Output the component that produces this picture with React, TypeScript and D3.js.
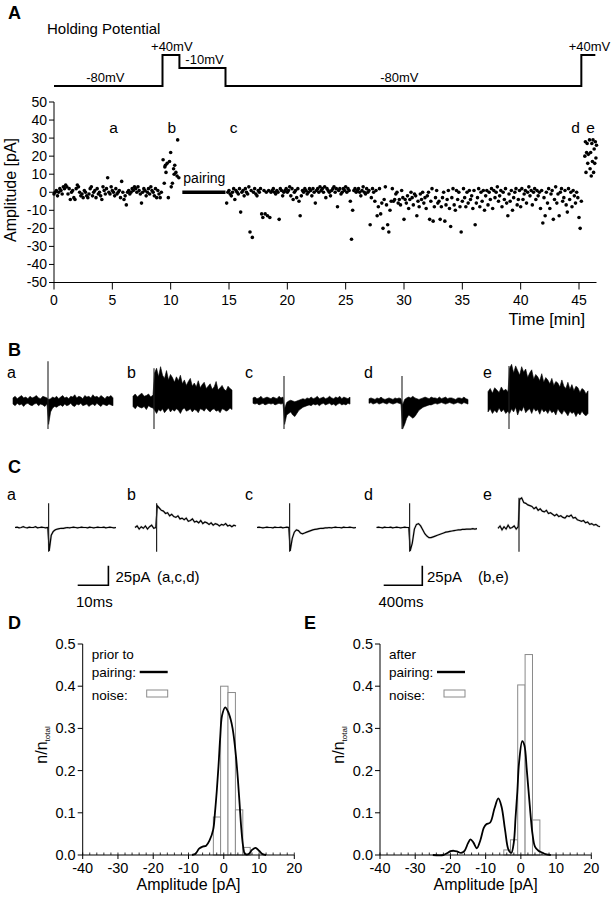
import React from 'react';
import * as d3 from 'd3';

const FONT = "'Liberation Sans', Arial, Helvetica, sans-serif";

// ---------------- Panel A: holding potential protocol ----------------
const holdTimes = [0, 9.3, 10.75, 14.7, 45.2, 46.4];
const holdLevels = [-80, 40, -10, -80, 40, 40];
const holdLabelText = ['-80mV', '+40mV', '-10mV', '-80mV', '+40mV'];
const holdLabelTime = [4.4, 10.1, 12.9, 29.6, 45.9];
const holdLabelLevel = [-80, 40, -10, -80, 40];

// ---------------- Panel A: EPSC amplitudes over time ----------------
const PRE_T0 = 0;
const PRE_DT = 0.1;
const preAmps = [
  -1, 0, 1, -2, 0, 2, 1, -1, 3, 2,
  4, 3, -1, 2, -4, 0, 1, -3, -4, 2,
  4, 3, 0, -2, -1, -3, 1, 0, -2, -3,
  -1, 2, 3, -2, 0, 1, -3, 2, -1, 0,
  -2, -4, 3, 1, -1, 2, 8, 0, -1, 3,
  1, 0, -2, 2, -1, 0, 1, -3, 6, 0,
  -4, -2, -7, 0, 1, -1, 0, 2, 1, 3,
  2, 0, 3, 1, -1, -6, 0, 2, 1, -2,
  0, 2, -1, 3, 1, 0, -2, 2, -3, 1,
  -1, -3, 0,
];
const bTimes = [9.35, 9.45, 9.5, 9.55, 9.6, 9.7, 9.8, 9.9, 10.0, 10.05, 10.15, 10.25, 10.3, 10.35, 10.45, 10.55, 10.6, 10.7];
const bAmps = [18, 5, 14, 15, 11, 16, -3, 17, 22, 3, 5, 13, 10, 15, 11, 9, 29, 8];
const POST_T0 = 14.8;
const POST_DT = 0.1;
const postAmps = [
  -6, 0,
  1, -1, -2, 0, 2, -4, 1, 0, -1, 2,
  -11, 0, 1, -2, 2, 0, -1, 3, -22, 1,
  -25, 0, 2, -1, -2, 1, 0, 2, -12, -14,
  1, -12, 0, -13, 1, -14, 0, 1, 2, 0,
  -1, 1, 0, -15, 2, 1, -2, 0, 1, 2,
  0, 1, 3, -2, 2, -4, 0, 1, -3, 2,
  -5, -13, -2, 1, 0, 2, 1, -1, 0, 2,
  1, -2, 2, 0, -6, 1, 2, 0, 3, 1,
  2, 0, 3, -3, 2, 1, 0, -2, 1, 2,
  3, 0, 2, -8, 1, 2, -1, 0, 2, 1,
  3, 0, 2, 1, -5, -26, -10, 1, 2, 0,
  1, 2, 0, -2, 1, 3, 0, -1, 2, 0,
  1, -18, -3, 2, 0, -5, 1, -13, -8, 2,
  -12, -6, -20, -4, 3, -7, -18, -22, -10, -5,
  2, -5, -4, -1, 0, -6, -4, -7, 1, -3,
  -15, -4, -6, -2, -9, -4, 0, -3, -7, -1,
  -2, -13, -5, -8, -1, -4, 0, -6, -3, -9,
  -2, 0, -15, -5, 2, -16, -8, -3, 1, -6,
  -5, -15, -8, -3, 0, -16, -7, -4, 1, -9,
  -19, -3, 2, -7, -10, 1, -4, 0, -8, -22,
  -5, 2, -3, -8, 0, -6, 1, -4, -2, -9,
  1, -18, -6, -3, 2, -8, 0, -5, 1, -10,
  -2, 1, -7, 0, -4, 2, -9, 1, -3, 0,
  3, -5, -2, 1, -8, 0, -4, 2, -6, -13,
  -1, -5, 1, -10, -3, 0, 2, -7, -4, 1,
  -8, 2, -4, -1, 1, -6, 0, 3, -2, 1,
  -7, 0, 2, -4, 1, -2, 0, -9, 1, -17,
  -3, -13, 0, -6, 2, -9, -1, 1, -15, -4,
  3, -6, -1, -13, 0, 2, -5, -3, 1, -7,
  -11, 2, -4, 0, -8, 1, -2, -6, 0, -3,
  -14, -20, -5,
];
const eTimes = [45.5, 45.55, 45.6, 45.65, 45.7, 45.75, 45.8, 45.9, 45.95, 46.0, 46.05, 46.1, 46.15, 46.2, 46.25, 46.3, 46.35, 46.4, 46.45, 46.5];
const eAmps = [20, 28, 11, 22, 27, 16, 21, 29, 13, 22, 9, 27, 17, 29, 11, 24, 16, 28, 19, 26];
const pairingSpan = [11, 14.7];
const timeTicks = [0, 5, 10, 15, 20, 25, 30, 35, 40, 45];
const ampTicks = [-50, -40, -30, -20, -10, 0, 10, 20, 30, 40, 50];
const eventLetters = ['a', 'b', 'c', 'd', 'e'];
const eventTimes = [5.1, 10.1, 15.4, 44.7, 46.0];

// ---------------- Panel B: overlaid traces (envelope, pA) ----------------
const bA_preTop = [4, 6, 3, 5, 7, 4, 5, 3, 6, 4, 5, 7, 4, 3, 6, 5, 4];
const bA_postTop = [2, 3, 5, 4, 6, 3, 5, 7, 4, 5, 3, 6, 5, 8, 4, 6, 5, 3, 7, 5, 6, 4, 8, 5, 6, 4, 7, 5, 3, 6, 5, 7, 4];
const bA_preBot = [-4, -6, -3, -5, -4, -7, -4, -3, -5, -6, -4, -3, -6, -4, -5, -7, -4];
const bA_postBot = [-30, -14, -9, -7, -8, -6, -5, -7, -4, -6, -5, -3, -6, -7, -4, -5, -3, -6, -5, -4, -7, -5, -4, -6, -3, -5, -7, -4, -5, -6, -4, -5, -6];

const bB_preTop = [6, 9, 5, 8, 10, 6, 7, 9, 5, 8];
const bB_postTop = [36, 42, 31, 44, 33, 29, 39, 27, 34, 30, 24, 31, 26, 33, 22, 27, 20, 25, 29, 19, 23, 18, 26, 17, 21, 24, 16, 19, 22, 15, 18, 25, 14, 17, 20, 15, 13, 19, 16, 14];
const bB_preBot = [-7, -10, -6, -8, -9, -7, -11, -6, -8, -9];
const bB_postBot = [-12, -16, -11, -13, -10, -15, -12, -9, -14, -11, -13, -10, -12, -16, -11, -9, -13, -12, -10, -14, -11, -12, -15, -10, -11, -13, -9, -12, -14, -11, -10, -13, -12, -15, -10, -11, -13, -12, -9, -11];

const bC_preTop = [4, 5, 3, 4, 6, 3, 4, 5, 4, 3, 5, 4, 3, 6, 4, 5];
const bC_postTop = [-10, -2, 0, 1, 0, -1, 0, 1, 2, 3, 2, 4, 3, 5, 3, 4, 6, 3, 4, 5, 3, 4, 6, 4, 3, 5, 4, 6, 3, 5, 4, 3, 5];
const bC_preBot = [-3, -4, -3, -5, -4, -3, -5, -4, -3, -4, -3, -5, -4, -3, -4, -3];
const bC_postBot = [-30, -18, -16, -14, -18, -20, -16, -12, -10, -8, -7, -6, -5, -6, -4, -5, -4, -6, -4, -3, -5, -4, -3, -5, -4, -6, -4, -3, -5, -4, -5, -3, -4];

const bD_preTop = [3, 4, 3, 2, 4, 3, 5, 3, 2, 3, 4, 3, 2, 4, 3, 4, 3];
const bD_postTop = [-5, 2, 4, 5, 4, 6, 4, 3, 2, 3, 4, 5, 4, 3, 5, 4, 4, 3, 5, 3, 4, 5, 3, 4, 4, 3, 2, 4, 4, 3, 5, 3, 2];
const bD_preBot = [-3, -2, -4, -3, -2, -4, -3, -2, -3, -4, -2, -3, -4, -3, -2, -3, -4];
const bD_postBot = [-36, -30, -22, -18, -20, -22, -20, -16, -12, -10, -8, -7, -6, -5, -5, -4, -3, -4, -3, -2, -3, -4, -3, -2, -3, -4, -3, -2, -3, -4, -2, -3, -4];

const bE_preTop = [12, 16, 10, 17, 14, 11, 18, 13, 15, 12];
const bE_postTop = [42, 47, 36, 45, 39, 33, 44, 37, 41, 30, 36, 40, 28, 34, 31, 26, 35, 24, 30, 27, 22, 29, 20, 25, 23, 18, 27, 19, 16, 24, 15, 21, 13, 19, 17, 11, 16, 14, 9, 13];
const bE_preBot = [-14, -10, -16, -12, -15, -9, -14, -11, -16, -13];
const bE_postBot = [-16, -10, -14, -8, -18, -11, -13, -7, -15, -12, -10, -16, -9, -13, -11, -17, -10, -14, -12, -16, -11, -15, -13, -18, -10, -14, -17, -12, -15, -19, -13, -16, -14, -20, -15, -18, -13, -17, -19, -16];

const bArtifactTop = [51, 42, 32, 32, 45];
const bArtifactBot = [-36, -36, -36, -36, -36];

// ---------------- Panel C: averaged traces (pA) ----------------
const cA_pre = [0, 0.5, -0.5, 0, 1, 0, -0.5, 0.5, 0, 0, 1, -0.5, 0, 0.5, 0, -0.5, 0];
const cA_post = [-30, -10, -5, -3, -2, -1.5, -1, -1, -0.5, 0, -0.5, 0, 0.5, 0, -0.5, 0, 0.5, 0, 0, -0.5, 0.5, 0, -0.5, 0, 0.5, 0, 0, 0.5, -0.5, 0, 0.5, 0, -0.5, 0];
const cB_pre = [0, 2, -2, 1, -1, 2, -2, 1, 3, -1, 0];
const cB_post = [28, 25, 22, 21, 18, 19, 15, 17, 14, 13, 15, 11, 12, 10, 12, 8, 9, 11, 7, 8, 6, 9, 5, 7, 6, 4, 6, 3, 5, 4, 2, 4, 3, 5, 2, 3, 1, 3, 2];
const cC_pre = [0, 0.5, 0, -0.5, 0, 0.5, 0, 0, -0.5, 0.5, 0, 0, 0.5, -0.5, 0, 0.5, 0];
const cC_post = [-30, -14, -6, -3, -4, -7, -8, -7, -6, -5, -4, -3, -2.5, -2, -1.5, -1, -1, -0.5, -0.5, 0, -0.5, 0, 0.5, 0, 0, -0.5, 0.5, 0, 0, 0.5, 0, -0.5, 0];
const cD_pre = [0, 0.5, 0, -0.5, 0.5, 0, 0, 0.5, -0.5, 0, 0.5, 0, -0.5, 0, 0.5, 0, 0];
const cD_post = [-30, -20, -2, 4, 5, 2, -3, -8, -11, -13, -13, -12, -11, -10, -9, -8, -7, -6, -5.5, -5, -4.5, -4, -3.5, -3, -3, -2.5, -2.5, -2, -2, -2, -1.5, -2, -1.5];
const cE_pre = [-1, 2, -3, 1, -2, 3, -1, 0, 2, -2, 1];
const cE_post = [36, 38, 32, 31, 29, 28, 27, 24, 26, 22, 24, 21, 20, 22, 18, 19, 17, 15, 17, 14, 15, 13, 12, 15, 14, 16, 12, 13, 10, 9, 8, 9, 6, 7, 4, 5, 3, 4, 2, 1];
const cArtifactTop = [31, 31, 31, 31, 38];
const cArtifactBot = [-31, -31, -31, -31, -31];

const traceLetters = ['a', 'b', 'c', 'd', 'e'];

// ---------------- Panels D / E: amplitude histograms ----------------
const binEdges = [-4.85, -2.95, -0.9, 1.2, 3.3, 5.4, 7.5];
const noiseD = [0, 0.09, 0.4, 0.385, 0.107, 0.018];
const noiseE = [0.012, 0.036, 0.403, 0.475, 0.083, 0];
const curveDx = [-9, -8, -7, -6, -5, -4, -3, -2.5, -2, -1.5, -1, -0.5, 0.4, 1.2, 2, 2.5, 3, 3.5, 4, 4.5, 5, 5.5, 6, 7, 8, 9, 10, 11, 12];
const curveDy = [0, 0.003, 0.015, 0.02, 0.022, 0.035, 0.06, 0.1, 0.15, 0.21, 0.28, 0.33, 0.35, 0.34, 0.32, 0.3, 0.27, 0.23, 0.18, 0.12, 0.06, 0.02, 0.003, 0.002, 0.012, 0.017, 0.01, 0.002, 0];
const curveEx = [-25, -22, -21, -20, -19, -18, -17, -16, -15, -14.3, -13.5, -12.5, -11.5, -10.5, -9.8, -8.7, -7.5, -6.4, -5.5, -4.5, -3.5, -2.7, -2, -1.5, -1, -0.5, 0.4, 1, 1.7, 2.5, 3.3, 4, 5, 6, 7, 8.5];
const curveEy = [0, 0, 0.004, 0.009, 0.01, 0.008, 0.005, 0.01, 0.028, 0.037, 0.03, 0.016, 0.035, 0.065, 0.073, 0.077, 0.11, 0.134, 0.115, 0.06, 0.012, 0.005, 0.03, 0.09, 0.15, 0.22, 0.27, 0.26, 0.2, 0.12, 0.05, 0.02, 0.01, 0.006, 0.002, 0];
const histXTicks = [-40, -30, -20, -10, 0, 10, 20];
const histYTicks = [0, 0.1, 0.2, 0.3, 0.4, 0.5];

const PX_PER_PA = 0.78;

type Pt = { x: number; t: number; b: number };

function Band({ x0, xa, x1, base, preTop, postTop, preBot, postBot, artTop, artBot }: any) {
  const sPre = d3.scaleLinear().domain([0, preTop.length - 1]).range([x0, xa - 1]);
  const sPost = d3.scaleLinear().domain([0, postTop.length - 1]).range([xa + 0.6, x1]);
  const y = d3.scaleLinear().domain([0, 1]).range([base, base - PX_PER_PA]);
  const pts: Pt[] = [
    ...preTop.map((v: number, i: number) => ({ x: sPre(i), t: y(v), b: y(preBot[i]) })),
    ...postTop.map((v: number, i: number) => ({ x: sPost(i), t: y(v), b: y(postBot[i]) })),
  ];
  const area = d3.area<Pt>().x((d) => d.x).y0((d) => d.b).y1((d) => d.t)(pts) || '';
  return (
    <g>
      <path d={area} fill="#000" stroke="#000" strokeWidth={0.6} />
      <line x1={xa} x2={xa} y1={y(artTop)} y2={y(artBot)} stroke="#222" strokeWidth={1.1} />
    </g>
  );
}

function Trace({ x0, xa, x1, base, pre, post, artTop, artBot }: any) {
  const sPre = d3.scaleLinear().domain([0, pre.length - 1]).range([x0, xa - 0.8]);
  const sPost = d3.scaleLinear().domain([0, post.length - 1]).range([xa + 0.6, x1]);
  const y = d3.scaleLinear().domain([0, 1]).range([base, base - PX_PER_PA]);
  const pts: [number, number][] = [
    ...pre.map((v: number, i: number) => [sPre(i), y(v)] as [number, number]),
    ...post.map((v: number, i: number) => [sPost(i), y(v)] as [number, number]),
  ];
  const line = d3.line()(pts) || '';
  return (
    <g>
      <path d={line} fill="none" stroke="#aaa" strokeWidth={2.2} opacity={0.5} />
      <path d={line} fill="none" stroke="#000" strokeWidth={1.2} />
      <line x1={xa} x2={xa} y1={y(artTop)} y2={y(artBot)} stroke="#222" strokeWidth={1.2} />
    </g>
  );
}

function Hist({ xLeft, xRight, noise, cx, cy, legend1, letter, letterX }: any) {
  const x = d3.scaleLinear().domain([-40, 20]).range([xLeft, xRight]);
  const y = d3.scaleLinear().domain([0, 0.5]).range([855, 644]);
  const pts: [number, number][] = cx.map((v: number, i: number) => [x(v), y(cy[i])]);
  const curve = d3.line().curve(d3.curveCatmullRom.alpha(0.5))(pts) || '';
  const minor = d3.range(-40, 20.01, 2);
  const tickFmt = d3.format('.1f');
  const midX = (xLeft + xRight) / 2;
  return (
    <g fontFamily={FONT} fill="#000">
      <text x={letterX} y={629} fontSize={18} fontWeight="bold">{letter}</text>
      {noise.map((v: number, i: number) =>
        v > 0 ? (
          <rect key={i} x={x(binEdges[i])} y={y(v)} width={x(binEdges[i + 1]) - x(binEdges[i])} height={y(0) - y(v)}
            fill="#fff" stroke="#8a8a8a" strokeWidth={1} />
        ) : null
      )}
      <path d={curve} fill="none" stroke="#000" strokeWidth={1.8} />
      <line x1={xLeft} x2={xLeft} y1={y(0.5)} y2={y(0)} stroke="#000" strokeWidth={1} />
      <line x1={xLeft} x2={xRight} y1={y(0)} y2={y(0)} stroke="#000" strokeWidth={1} />
      {histYTicks.map((t) => (
        <g key={t}>
          <line x1={xLeft - 5} x2={xLeft} y1={y(t)} y2={y(t)} stroke="#000" />
          <text x={xLeft - 7} y={y(t)} dy="0.35em" textAnchor="end" fontSize={14.5}>{tickFmt(t)}</text>
        </g>
      ))}
      {minor.map((t) => (
        <line key={'m' + t} x1={x(t)} x2={x(t)} y1={y(0)} y2={y(0) - 2.5} stroke="#000" strokeWidth={0.8} />
      ))}
      {histXTicks.map((t) => (
        <g key={'x' + t}>
          <line x1={x(t)} x2={x(t)} y1={y(0)} y2={y(0) + 4} stroke="#000" />
          <text x={x(t)} y={873} textAnchor="middle" fontSize={14.5}>{t}</text>
        </g>
      ))}
      <text x={midX} y={890} textAnchor="middle" fontSize={16}>Amplitude [pA]</text>
      <text transform={`translate(${xLeft - 36},745) rotate(-90)`} textAnchor="middle" fontSize={16}>
        n/n<tspan fontSize={8} dy={3}>total</tspan>
      </text>
      <text x={xLeft + 9} y={659} fontSize={13.5}>{legend1}</text>
      <text x={xLeft + 9} y={677} fontSize={13.5}>pairing:</text>
      <line x1={xLeft + 57} x2={xLeft + 85} y1={672} y2={672} stroke="#000" strokeWidth={2.4} />
      <text x={xLeft + 9} y={700} fontSize={13.5}>noise:</text>
      <rect x={xLeft + 64} y={690} width={21} height={7} fill="#fff" stroke="#8a8a8a" strokeWidth={1} />
    </g>
  );
}

export default function App() {
  const xT = d3.scaleLinear().domain([0, 45]).range([54, 579]);
  const yA = d3.scaleLinear().domain([-50, 50]).range([282.5, 102]);
  const yV = d3.scaleLinear().domain([-80, 40]).range([86, 55]);

  const holdPath = d3.line<number>()
    .x((_, i) => xT(holdTimes[i]))
    .y((_, i) => yV(holdLevels[i]))
    .curve(d3.curveStepAfter)(holdLevels) || '';

  const points: [number, number][] = [
    ...preAmps.map((a, i) => [PRE_T0 + i * PRE_DT, a] as [number, number]),
    ...bAmps.map((a, i) => [bTimes[i], a] as [number, number]),
    ...postAmps.map((a, i) => [POST_T0 + i * POST_DT, a] as [number, number]),
    ...eAmps.map((a, i) => [eTimes[i], a] as [number, number]),
  ];

  const bands = [
    { x0: 13, xa: 48, x1: 113, preTop: bA_preTop, postTop: bA_postTop, preBot: bA_preBot, postBot: bA_postBot },
    { x0: 133, xa: 154, x1: 232, preTop: bB_preTop, postTop: bB_postTop, preBot: bB_preBot, postBot: bB_postBot },
    { x0: 253, xa: 284, x1: 350, preTop: bC_preTop, postTop: bC_postTop, preBot: bC_preBot, postBot: bC_postBot },
    { x0: 369, xa: 402, x1: 468, preTop: bD_preTop, postTop: bD_postTop, preBot: bD_preBot, postBot: bD_postBot },
    { x0: 488, xa: 509, x1: 588, preTop: bE_preTop, postTop: bE_postTop, preBot: bE_preBot, postBot: bE_postBot },
  ];
  const traces = [
    { x0: 15, xa: 48.6, x1: 116, pre: cA_pre, post: cA_post },
    { x0: 135, xa: 156.6, x1: 236, pre: cB_pre, post: cB_post },
    { x0: 257, xa: 289.6, x1: 356, pre: cC_pre, post: cC_post },
    { x0: 376.5, xa: 409.6, x1: 477, pre: cD_pre, post: cD_post },
    { x0: 498, xa: 519, x1: 600, pre: cE_pre, post: cE_post },
  ];
  const letterX = [7, 127, 245, 364, 483];

  return (
    <svg width={614} height={899} style={{ position: 'absolute', left: 0, top: 0, background: '#fff' }} fontFamily={FONT}>
      <rect x={0} y={0} width={614} height={899} fill="#fff" />
      {/* Panel A */}
      <text x={8} y={19} fontSize={18} fontWeight="bold">A</text>
      <text x={47} y={34} fontSize={15}>Holding Potential</text>
      <path d={holdPath} fill="none" stroke="#000" strokeWidth={2} />
      {holdLabelText.map((t, i) => (
        <text key={i} x={xT(holdLabelTime[i])} y={yV(holdLabelLevel[i]) - 4} textAnchor="middle" fontSize={13}>{t}</text>
      ))}

      {/* scatter axes */}
      <line x1={54} x2={54} y1={yA(50)} y2={yA(-50)} stroke="#000" />
      <line x1={54} x2={xT(46.5)} y1={yA(-50)} y2={yA(-50)} stroke="#000" />
      {ampTicks.map((t) => (
        <g key={t}>
          <line x1={49} x2={54} y1={yA(t)} y2={yA(t)} stroke="#000" />
          <text x={47} y={yA(t)} dy="0.35em" textAnchor="end" fontSize={14}>{t}</text>
        </g>
      ))}
      {timeTicks.map((t) => (
        <g key={t}>
          <line x1={xT(t)} x2={xT(t)} y1={yA(-50)} y2={yA(-50) + 7} stroke="#000" />
          <text x={xT(t)} y={305} textAnchor="middle" fontSize={14}>{t}</text>
        </g>
      ))}
      <text x={585} y={325} textAnchor="end" fontSize={16.5}>Time [min]</text>
      <text transform={`translate(16,190) rotate(-90)`} textAnchor="middle" fontSize={16}>Amplitude [pA]</text>
      {eventLetters.map((l, i) => (
        <text key={l} x={xT(eventTimes[i])} y={yA(33)} textAnchor="middle" fontSize={15.5}>{l}</text>
      ))}
      <line x1={xT(pairingSpan[0])} x2={xT(pairingSpan[1])} y1={yA(0)} y2={yA(0)} stroke="#000" strokeWidth={3.5} />
      <text x={xT(pairingSpan[0]) + 1} y={yA(5)} fontSize={14}>pairing</text>
      {points.map((p, i) => (
        <circle key={i} cx={xT(p[0])} cy={yA(p[1])} r={1.8} fill="#000" />
      ))}

      {/* Panel B */}
      <text x={8} y={356} fontSize={18} fontWeight="bold">B</text>
      {traceLetters.map((l, i) => (
        <text key={'bl' + l} x={letterX[i]} y={378} fontSize={16}>{l}</text>
      ))}
      {bands.map((b, i) => (
        <Band key={i} {...b} base={401} artTop={bArtifactTop[i]} artBot={bArtifactBot[i]} />
      ))}

      {/* Panel C */}
      <text x={8} y={473} fontSize={18} fontWeight="bold">C</text>
      {traceLetters.map((l, i) => (
        <text key={'cl' + l} x={letterX[i]} y={500} fontSize={16}>{l}</text>
      ))}
      {traces.map((t, i) => (
        <Trace key={i} {...t} base={527.5} artTop={cArtifactTop[i]} artBot={cArtifactBot[i]} />
      ))}
      {/* scale bars */}
      <path d={`M77.7,585.3 H108.4 V565.8`} fill="none" stroke="#000" strokeWidth={1.6} />
      <text x={115.5} y={582} fontSize={15}>25pA</text>
      <text x={157} y={582} fontSize={15}>(a,c,d)</text>
      <text x={76} y={607} fontSize={15}>10ms</text>
      <path d={`M383.7,585.3 H422.3 V565.8`} fill="none" stroke="#000" strokeWidth={1.6} />
      <text x={427} y={582} fontSize={15}>25pA</text>
      <text x={478} y={582} fontSize={15}>(b,e)</text>
      <text x={378.5} y={607} fontSize={15}>400ms</text>

      {/* Panels D, E */}
      <Hist xLeft={82.7} xRight={294.3} noise={noiseD} cx={curveDx} cy={curveDy} legend1="prior to" letter="D" letterX={8} />
      <Hist xLeft={380} xRight={591.3} noise={noiseE} cx={curveEx} cy={curveEy} legend1="after" letter="E" letterX={304} />
    </svg>
  );
}
